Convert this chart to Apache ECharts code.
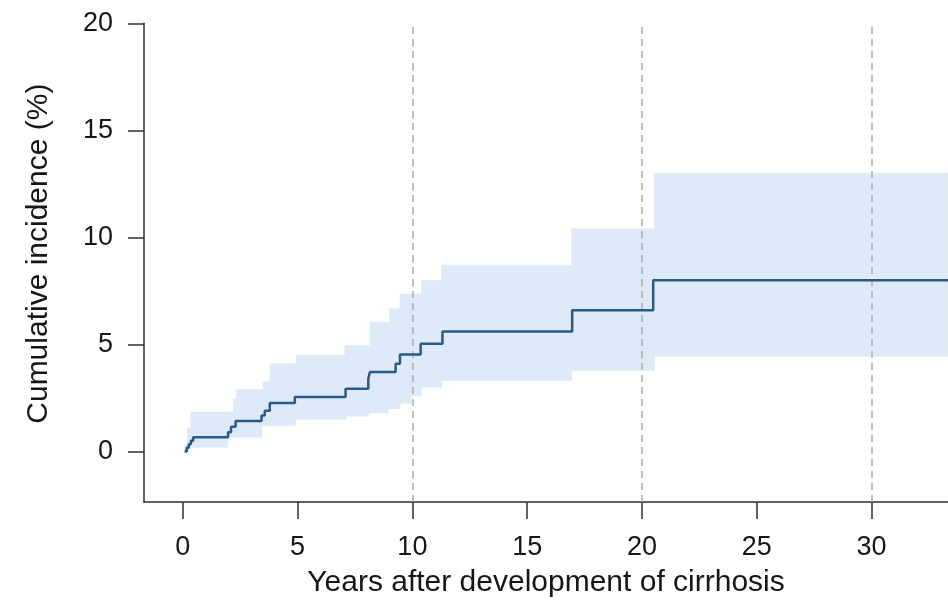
<!DOCTYPE html>
<html>
<head>
<meta charset="utf-8">
<title>Cumulative incidence after cirrhosis</title>
<script src="https://cdn.jsdelivr.net/npm/echarts@6/dist/echarts.min.js"></script>
<style>
  html, body { margin: 0; padding: 0; background: #ffffff; }
  #chart { width: 948px; height: 604px; }
</style>
</head>
<body>
<div id="chart"></div>
<script>
// Cumulative incidence estimate: [years, percent], value holds until the next point
const incidence = [
  [0.08, 0], [0.17, 0.17], [0.26, 0.34], [0.35, 0.5], [0.45, 0.67],
  [1.97, 0.9], [2.1, 1.15], [2.3, 1.42],
  [3.43, 1.68], [3.57, 1.9], [3.79, 2.26],
  [4.88, 2.55],
  [7.09, 2.93],
  [8.08, 3.4], [8.15, 3.71],
  [9.27, 4.1], [9.46, 4.53],
  [10.36, 5.03],
  [11.31, 5.6],
  [16.96, 6.6],
  [20.49, 8.0],
  [33.4, 8.0]
];

// Upper bound of the 95% confidence interval
const upperCI = [
  [0.08, 0.3], [0.2, 1.1], [0.35, 1.84], [2.2, 2.45], [2.35, 2.9],
  [3.5, 3.25], [3.8, 4.1], [4.95, 4.5], [7.06, 4.95], [8.15, 6.04],
  [9.0, 6.67], [9.46, 7.35], [10.4, 7.99], [11.27, 8.7], [16.94, 10.4],
  [20.54, 13.0], [33.4, 13.0]
];

// Lower bound of the 95% confidence interval
const lowerCI = [
  [0.08, 0], [0.3, 0.2], [1.96, 0.67], [3.45, 1.2], [4.9, 1.5],
  [7.09, 1.65], [8.08, 1.8], [8.95, 2.0], [9.46, 2.25], [9.95, 2.6],
  [10.4, 3.0], [11.27, 3.32], [16.94, 3.78], [20.54, 4.45], [33.4, 4.45]
];

const xTicks = [0, 5, 10, 15, 20, 25, 30];
const yTicks = [0, 5, 10, 15, 20];
const guideYears = [10, 20, 30];

// Value of a step curve at year x
function stepValue(curve, x) {
  let v = curve[0][1];
  for (const [xi, yi] of curve) { if (xi <= x) v = yi; }
  return v;
}

// Split the band into constant pieces: [fromYear, toYear, lower, upper]
const bandYears = Array.from(new Set(upperCI.map(p => p[0]).concat(lowerCI.map(p => p[0]))))
  .sort((a, b) => a - b);
const bandPieces = [];
for (let i = 0; i < bandYears.length - 1; i++) {
  const x0 = bandYears[i], x1 = bandYears[i + 1];
  bandPieces.push([x0, x1, stepValue(lowerCI, x0), stepValue(upperCI, x0)]);
}

const FONT = '"Liberation Sans", Arial, sans-serif';
const TEXT = '#161616';
const AXIS = '#303030';
const BAND = '#deeaf7';

const chart = echarts.init(document.getElementById('chart'), null, { renderer: 'canvas' });

chart.setOption({
  animation: false,
  backgroundColor: '#ffffff',
  grid: { left: 144, right: 0, top: 23.3, bottom: 102, containLabel: false },
  xAxis: {
    type: 'value',
    min: -1.69,
    max: 33.33,
    name: 'Years after development of cirrhosis',
    nameLocation: 'middle',
    nameGap: 66,
    nameTextStyle: { fontFamily: FONT, fontSize: 30, color: TEXT },
    axisLine: { show: true, onZero: false, lineStyle: { color: AXIS, width: 1.5 } },
    axisTick: { show: true, length: 17, customValues: xTicks, lineStyle: { color: AXIS, width: 1.5 } },
    axisLabel: { customValues: xTicks, margin: 32, fontFamily: FONT, fontSize: 27, color: TEXT },
    splitLine: { show: false }
  },
  yAxis: {
    type: 'value',
    min: -2.36,
    max: 20,
    name: 'Cumulative incidence (%)',
    nameLocation: 'middle',
    nameGap: 90,
    nameTextStyle: { fontFamily: FONT, fontSize: 30, color: TEXT, padding: [0, 0, 0, 18] },
    axisLine: { show: true, onZero: false, lineStyle: { color: AXIS, width: 1.5 } },
    axisTick: { show: true, length: 16, customValues: yTicks, lineStyle: { color: AXIS, width: 1.5 } },
    axisLabel: { customValues: yTicks, margin: 31, fontFamily: FONT, fontSize: 27, color: TEXT },
    splitLine: { show: false }
  },
  series: [
    {
      name: '95% CI',
      type: 'custom',
      data: bandPieces,
      encode: { x: [0, 1], y: [2, 3] },
      z: 1,
      renderItem: function (params, api) {
        const topLeft = api.coord([api.value(0), api.value(3)]);
        const bottomRight = api.coord([api.value(1), api.value(2)]);
        const rect = echarts.graphic.clipRectByRect({
          x: topLeft[0],
          y: topLeft[1],
          width: bottomRight[0] - topLeft[0],
          height: bottomRight[1] - topLeft[1]
        }, params.coordSys);
        return rect && {
          type: 'rect',
          shape: rect,
          style: { fill: BAND, stroke: BAND, lineWidth: 0.6 }
        };
      }
    },
    {
      name: 'Cumulative incidence',
      type: 'line',
      step: 'end',
      symbol: 'none',
      data: incidence,
      lineStyle: { color: '#2c5a87', width: 2.5 },
      z: 3,
      markLine: {
        silent: true,
        symbol: 'none',
        label: { show: false },
        lineStyle: { color: '#acacac', type: [7, 5], width: 1.5 },
        z: 2,
        data: guideYears.map(y => ({ xAxis: y }))
      }
    }
  ]
});
</script>
</body>
</html>
